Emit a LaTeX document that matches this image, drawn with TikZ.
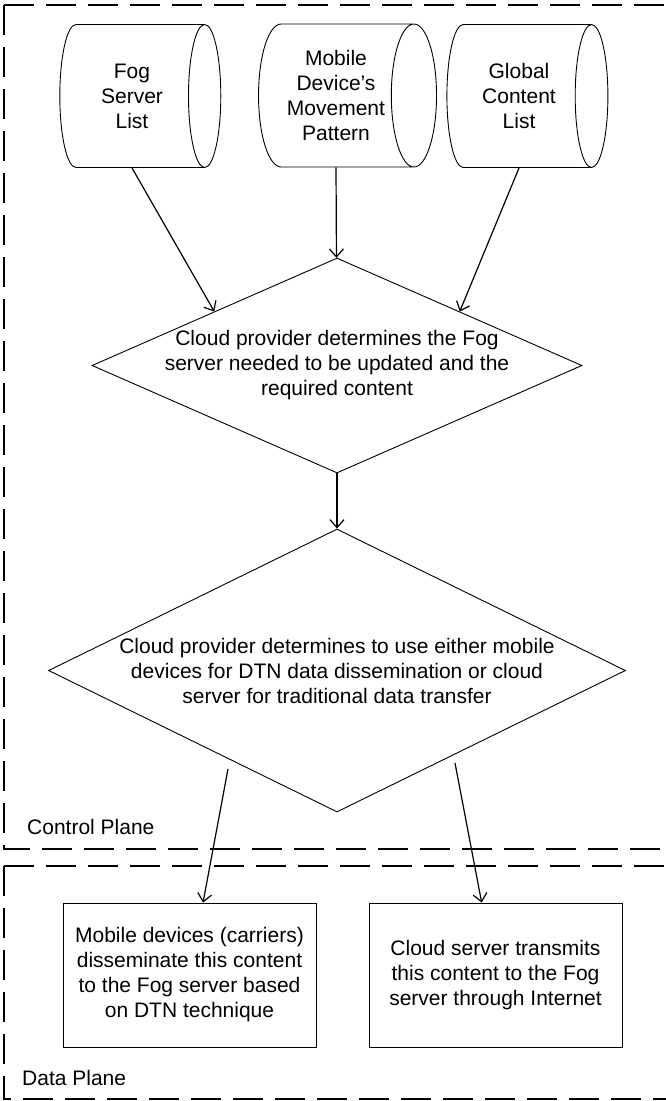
\documentclass[tikz,border=0pt]{standalone}
\usepackage{fontspec}
\setmainfont{Liberation Sans}
\usetikzlibrary{shapes.geometric,arrows.meta}

\begin{document}
\begin{tikzpicture}[x=10pt,y=-10pt,
    every node/.style={font=\fontsize{21}{25}\selectfont, align=center},
    store/.style={draw, cylinder, aspect=.5, minimum height=161pt, minimum width=143pt, inner sep=0pt, line width=.9pt},
    decide/.style={draw, diamond, inner xsep=-20pt, inner ysep=0pt, line width=.9pt},
    act/.style={draw, rectangle, minimum width=253pt, minimum height=144pt, line width=.9pt},
    flow/.style={-{Straight Barb[length=8pt,width=14pt]}, line width=1.2pt},
    plane/.style={dash pattern=on 30pt off 12pt, line width=1.2pt}]
    \useasboundingbox (0,0) rectangle (66.5,110.1);

    % the two planes
    \draw[plane] (0.4,0.5) -- (68,0.5);
    \draw[plane] (0.4,0.5) -- (0.4,84.9) -- (68,84.9);
    \draw[plane] (0.4,86.6) -- (68,86.6);
    \draw[plane] (0.4,86.6) -- (0.4,109.9) -- (68,109.9);
    \node[anchor=west, inner sep=0pt] (cplane) at (2.7,82.7) {Control Plane};
    \node[anchor=west, inner sep=0pt] (dplane) at (2.2,107.8) {Data Plane};

    % stored lists
    \node[store] (fog) at (13.2,9.6) {Fog\\Server\\List};
    \node[store, minimum height=178pt] (move) at (33.6,9.55) {Mobile\\Device's\\Movement\\Pattern};
    \node[store] (glob) at (51.9,9.6) {Global\\Content\\List};

    % decisions
    \node[decide, aspect=2.28, minimum width=490pt, minimum height=215pt] (target) at (33.7,36.55)
        {Cloud provider determines the Fog\\server needed to be updated and the\\required content};
    \node[decide, aspect=2.04, minimum width=577pt, minimum height=283pt] (choose) at (33.7,67.05)
        {Cloud provider determines to use either mobile\\devices for DTN data dissemination or cloud\\server for traditional data transfer};

    % data plane actions
    \node[act] (dtn) at (18.95,97.5) {Mobile devices (carriers)\\disseminate this content\\to the Fog server based\\on DTN technique};
    \node[act] (inet) at (49.55,97.5) {Cloud server transmits\\this content to the Fog\\server through Internet};

    \coordinate (tocarrier) at (22.8,76.9);
    \coordinate (tocloud) at (45.5,76.3);

    \draw[flow] (fog.south) -- (target.north west);
    \draw[flow] (move.south) -- (target);
    \draw[flow] (glob.south) -- (target.north east);
    \draw[flow] (target) -- (choose);
    \draw[flow] (tocarrier) -- (dtn);
    \draw[flow] (tocloud) -- (inet);

\end{tikzpicture}
\end{document}
